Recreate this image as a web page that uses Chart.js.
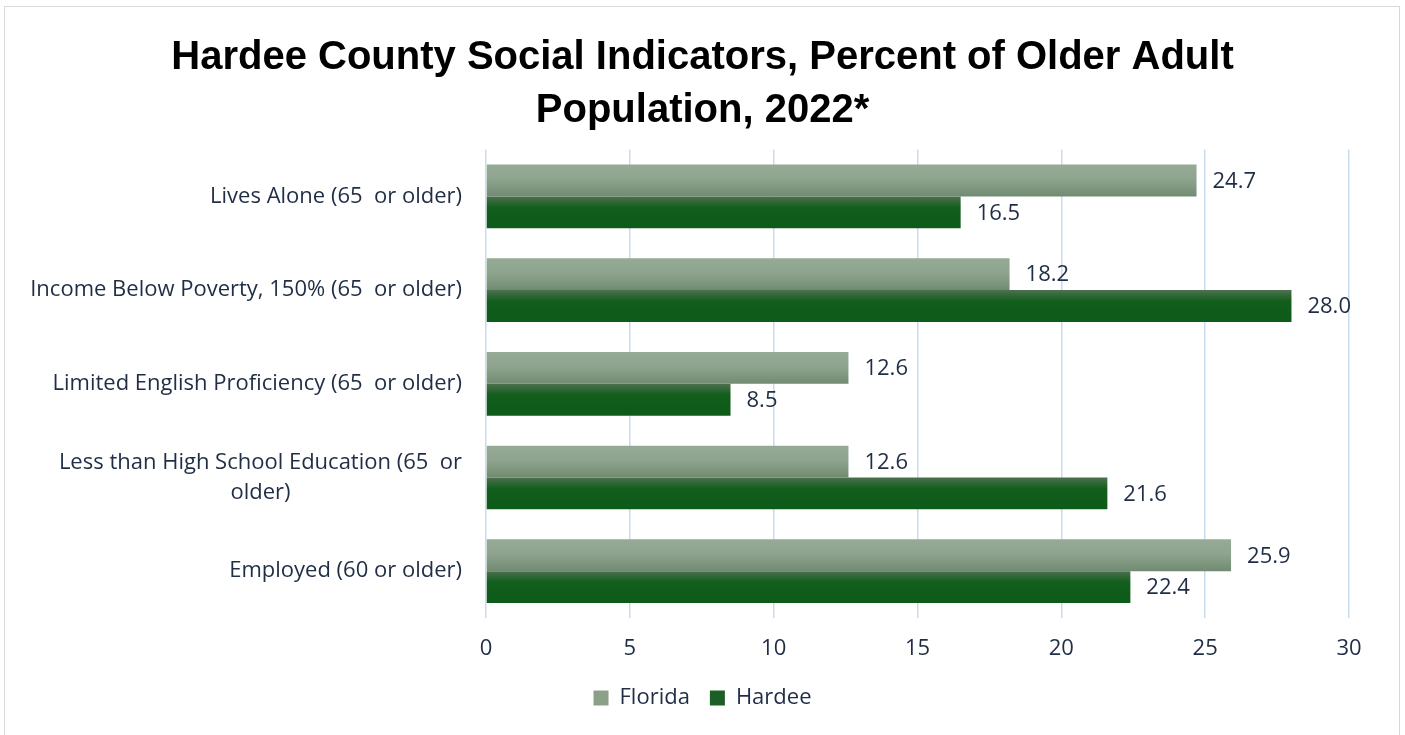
<!DOCTYPE html>
<html>
<head>
<meta charset="utf-8">
<script src="https://cdn.jsdelivr.net/npm/chart.js@4.4.1/dist/chart.umd.min.js"></script>
<style>
    html, body { margin: 0; padding: 0; background: #ffffff; }
    #wrap { position: relative; width: 1405px; height: 735px; }
    #frame { position: absolute; left: 4px; top: 6px; width: 1396px; height: 740px; border: 1.5px solid #d9d9d9; box-sizing: border-box; }
    canvas { position: absolute; left: 0; top: 0; }
</style>
</head>
<body>
<div id="wrap">
    <div id="frame"></div>
    <canvas id="chart1" width="1405" height="735"></canvas>
</div>
<script>
const categories = [
    'Lives Alone (65  or older)',
    'Income Below Poverty, 150% (65  or older)',
    'Limited English Proficiency (65  or older)',
    ['Less than High School Education (65  or', 'older)'],
    'Employed (60 or older)'
];
const floridaValues = [24.7, 18.2, 12.6, 12.6, 25.9];
const hardeeValues = [16.5, 28.0, 8.5, 21.6, 22.4];
const xTicks = [0, 5, 10, 15, 20, 25, 30];

const CAT_PCT = 0.68;
const textColor = '#1f2d45';
const bodyFont = "'Open Sans', 'Liberation Sans', sans-serif";
const bodySize = 22;

// 渐变填充色
const floridaStops = [[0, '#96ab95'], [0.45, '#8fa48e'], [1, '#718b72']];
const hardeeStops = [[0, '#4d704e'], [0.35, '#125e1c'], [1, '#0d5b19']];

function barFill(context, stops, solid) {
    const chart = context.chart;
    const sc = chart.scales && chart.scales.y;
    if (!chart.chartArea || !sc || context.type !== 'data') return solid;
    const c = sc.getPixelForValue(context.dataIndex);
    const h = sc.height / categories.length * CAT_PCT / 2;
    const top = context.datasetIndex === 0 ? c - h : c;
    const g = chart.ctx.createLinearGradient(0, top, 0, top + h);
    stops.forEach(s => g.addColorStop(s[0], s[1]));
    return g;
}

const valueLabels = {
    id: 'valueLabels',
    afterDatasetsDraw(chart) {
        const ctx = chart.ctx;
        ctx.save();
        ctx.font = bodySize + 'px ' + bodyFont;
        ctx.fillStyle = textColor;
        ctx.textAlign = 'left';
        ctx.textBaseline = 'middle';
        chart.data.datasets.forEach((ds, di) => {
            chart.getDatasetMeta(di).data.forEach((el, i) => {
                ctx.fillText(ds.data[i].toFixed(1), el.x + 16, el.y + 1);
            });
        });
        ctx.restore();
    }
};

// y轴标签: 多行时居中对齐, 整块右对齐
const categoryLabels = {
    id: 'categoryLabels',
    afterDraw(chart) {
        const ctx = chart.ctx;
        const sc = chart.scales.y;
        const right = sc.right - 24;
        const lineH = 30;
        ctx.save();
        ctx.font = bodySize + 'px ' + bodyFont;
        ctx.fillStyle = textColor;
        ctx.textAlign = 'center';
        ctx.textBaseline = 'middle';
        categories.forEach((label, i) => {
            const lines = Array.isArray(label) ? label : [label];
            const maxW = Math.max(...lines.map(l => ctx.measureText(l).width));
            const cy = sc.getPixelForValue(i);
            const startY = cy - (lines.length - 1) * lineH / 2;
            lines.forEach((l, k) => {
                ctx.fillText(l, right - maxW / 2, startY + k * lineH);
            });
        });
        ctx.restore();
    }
};

const ctx = document.getElementById('chart1').getContext('2d');
new Chart(ctx, {
    type: 'bar',
    data: {
        labels: categories,
        datasets: [
            {
                label: 'Florida',
                data: floridaValues,
                backgroundColor: c => barFill(c, floridaStops, '#8aa089'),
                categoryPercentage: CAT_PCT,
                barPercentage: 1
            },
            {
                label: 'Hardee',
                data: hardeeValues,
                backgroundColor: c => barFill(c, hardeeStops, '#1c6226'),
                categoryPercentage: CAT_PCT,
                barPercentage: 1
            }
        ]
    },
    options: {
        indexAxis: 'y',
        responsive: false,
        animation: false,
        layout: { padding: { left: 56, right: 56, top: 0, bottom: 16 } },
        plugins: {
            title: {
                display: true,
                text: ['Hardee County Social Indicators, Percent of Older Adult', 'Population, 2022*'],
                color: '#000000',
                font: { family: "'Liberation Sans', Arial, sans-serif", size: 40, weight: 'bold', lineHeight: 1.32 },
                padding: { top: 32, bottom: 12 }
            },
            legend: {
                position: 'bottom',
                labels: {
                    color: textColor,
                    font: { family: bodyFont, size: bodySize },
                    boxWidth: 15,
                    boxHeight: 15,
                    padding: 20,
                    generateLabels(chart) {
                        const fills = ['#8aa089', '#1c5f25'];
                        return chart.data.datasets.map((ds, i) => ({
                            text: ds.label,
                            fillStyle: fills[i],
                            strokeStyle: fills[i],
                            lineWidth: 0,
                            fontColor: textColor,
                            datasetIndex: i
                        }));
                    }
                }
            },
            tooltip: { enabled: false }
        },
        scales: {
            x: {
                min: 0,
                max: 30,
                afterBuildTicks(scale) {
                    scale.ticks = xTicks.map(v => ({ value: v }));
                },
                afterFit(scale) { scale.height = 49; },
                ticks: {
                    color: textColor,
                    font: { family: bodyFont, size: bodySize },
                    padding: 18
                },
                grid: { color: '#c9dcef', lineWidth: 1.5, drawTicks: false },
                border: { display: false }
            },
            y: {
                afterFit(scale) { scale.width = 430; },
                ticks: { display: false },
                grid: { display: false },
                border: { display: false }
            }
        }
    },
    plugins: [valueLabels, categoryLabels]
});
</script>
</body>
</html>
